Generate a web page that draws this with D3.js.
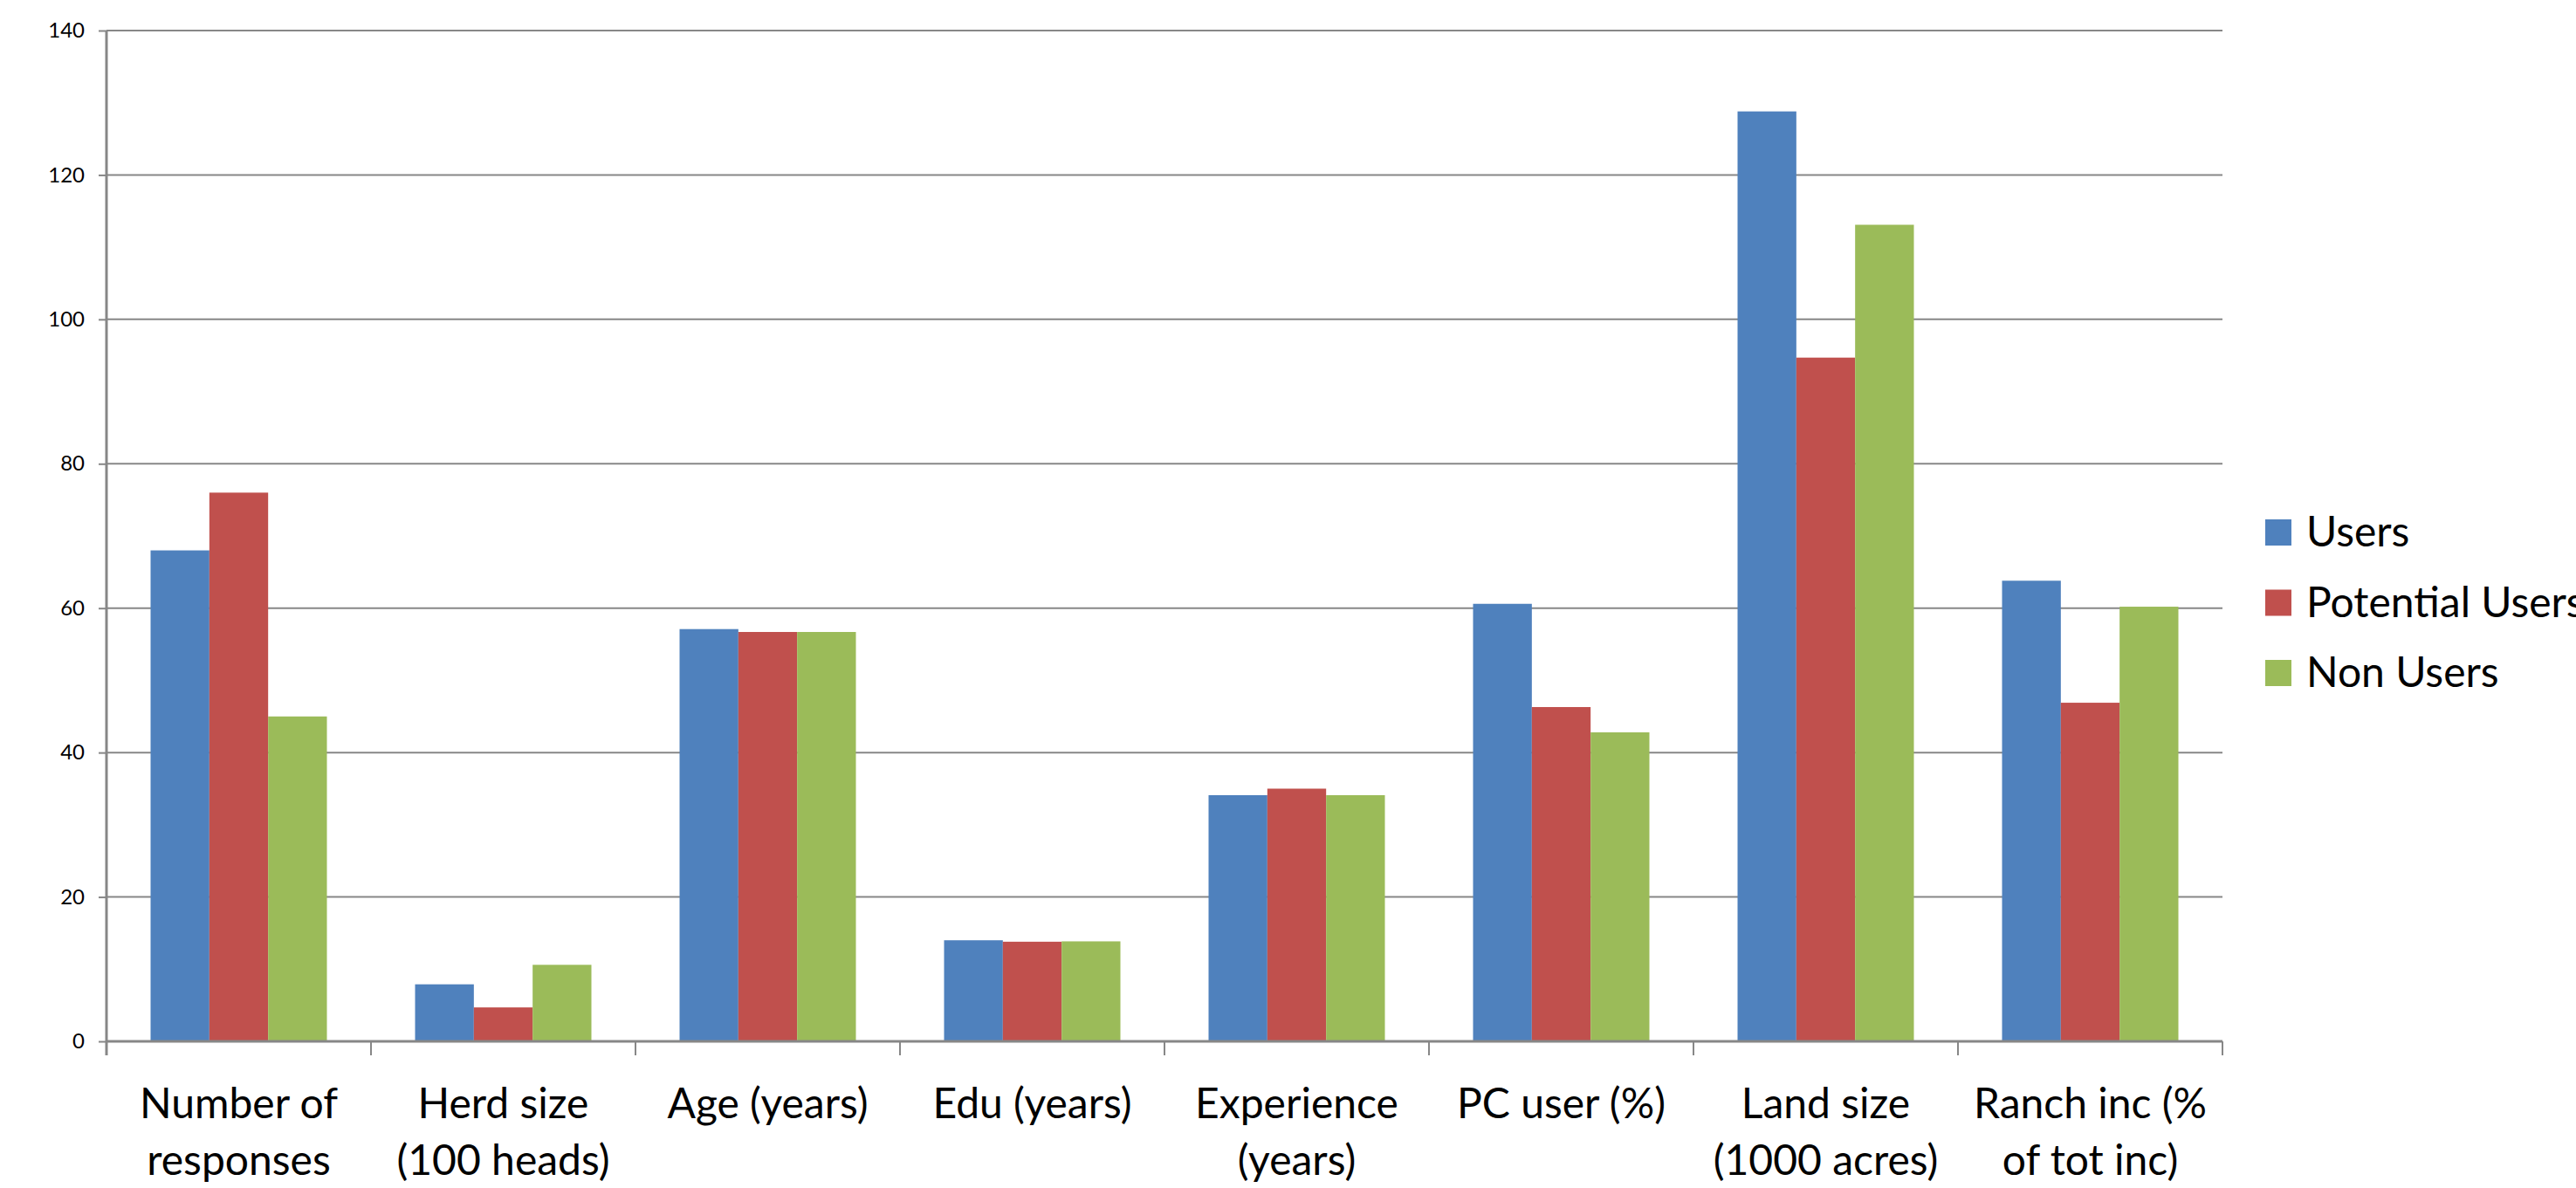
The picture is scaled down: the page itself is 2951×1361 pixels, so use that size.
<!DOCTYPE html>
<html>
<head>
<meta charset="utf-8">
<script src="https://cdn.jsdelivr.net/npm/d3@7"></script>
<style>
  html, body { margin: 0; padding: 0; background: #fff; }
  svg { display: block; }
</style>
</head>
<body>
<div id="chart"></div>
<script>
// Clustered column chart: survey characteristics by user group
(function() {
  "use strict";

  // ---- data ----
  const categories = ["Number of responses", "Herd size (100 heads)", "Age (years)", "Edu (years)",
    "Experience (years)", "PC user (%)", "Land size (1000 acres)", "Ranch inc (% of tot inc)"];
  // how the category labels wrap under the axis
  const categoryLines = [["Number of", "responses"], ["Herd size", "(100 heads)"], ["Age (years)"], ["Edu (years)"],
    ["Experience", "(years)"], ["PC user (%)"], ["Land size", "(1000 acres)"], ["Ranch inc (%", "of tot inc)"]];
  const seriesNames = ["Users", "Potential Users", "Non Users"];
  const users = [68, 7.9, 57.1, 14.0, 34.1, 60.6, 128.8, 63.8];
  const potentialUsers = [76, 4.7, 56.7, 13.8, 35.0, 46.3, 94.7, 46.9];
  const nonUsers = [45, 10.6, 56.7, 13.85, 34.1, 42.8, 113.1, 60.2];
  const yTicks = [0, 20, 40, 60, 80, 100, 120, 140];

  const seriesValues = [users, potentialUsers, nonUsers];
  const colors = ["#4F81BD", "#C0504D", "#9BBB59"];

  // ---- layout ----
  const width = 2951, height = 1361;
  const left = 122, right = 2546, top = 35, bottom = 1193;
  const font = "Lato, 'Open Sans', sans-serif";
  const gridColor = "#878787";

  const svg = d3.select("#chart").append("svg")
      .attr("width", width)
      .attr("height", height)
      .style("font-family", font);

  const y = d3.scaleLinear().domain([0, 140]).range([bottom, top]);

  // Excel-style gap width 150%: outer padding of 0.75 bar on each side
  const x0 = d3.scaleBand().domain(categories).range([left, right]).padding(0);
  const x1 = d3.scaleBand().domain(seriesNames).range([0, x0.bandwidth()])
      .paddingInner(0).paddingOuter(0.75);

  // horizontal gridlines
  svg.append("g")
    .selectAll("line")
    .data(yTicks.filter(d => d > 0))
    .join("line")
      .attr("x1", left)
      .attr("x2", right)
      .attr("y1", d => y(d))
      .attr("y2", d => y(d))
      .attr("stroke", gridColor)
      .attr("stroke-width", 2);

  // y axis
  const yAxis = svg.append("g")
      .attr("transform", `translate(${left},0)`)
      .call(d3.axisLeft(y).tickValues(yTicks).tickSizeInner(9).tickSizeOuter(0).tickPadding(16));
  yAxis.select(".domain").remove();
  yAxis.selectAll(".tick line").attr("stroke", gridColor).attr("stroke-width", 2);
  yAxis.selectAll(".tick text")
      .attr("font-family", font)
      .attr("font-size", 24)
      .attr("fill", "#000");

  // bars
  const rows = categories.map((c, i) => ({ category: c, values: seriesNames.map((s, j) => ({ series: s, value: seriesValues[j][i], color: colors[j] })) }));

  svg.append("g")
    .selectAll("g")
    .data(rows)
    .join("g")
      .attr("transform", d => `translate(${x0(d.category)},0)`)
    .selectAll("rect")
    .data(d => d.values)
    .join("rect")
      .attr("x", d => x1(d.series))
      .attr("y", d => y(d.value))
      .attr("width", x1.bandwidth())
      .attr("height", d => y(0) - y(d.value))
      .attr("fill", d => d.color);

  // x axis line, y axis line and category boundary ticks
  const axisColor = gridColor;
  svg.append("line")
      .attr("x1", left).attr("x2", right)
      .attr("y1", y(0)).attr("y2", y(0))
      .attr("stroke", axisColor).attr("stroke-width", 3);
  svg.append("line")
      .attr("x1", left).attr("x2", left)
      .attr("y1", y(140)).attr("y2", y(0) + 16)
      .attr("stroke", axisColor).attr("stroke-width", 3);

  const boundaries = categories.map(c => x0(c)).concat([x0.range()[1]]);
  svg.append("g")
    .selectAll("line")
    .data(boundaries)
    .join("line")
      .attr("x1", d => d).attr("x2", d => d)
      .attr("y1", y(0)).attr("y2", y(0) + 16)
      .attr("stroke", axisColor).attr("stroke-width", 2);

  // category labels (wrapped)
  const labels = svg.append("g")
      .attr("text-anchor", "middle")
      .attr("font-size", 48)
      .attr("fill", "#000")
    .selectAll("text")
    .data(categories)
    .join("text")
      .attr("x", d => x0(d) + x0.bandwidth() / 2)
      .attr("y", 1281);
  labels.selectAll("tspan")
    .data((d, i) => categoryLines[i])
    .join("tspan")
      .attr("x", function() { return this.parentNode.getAttribute("x"); })
      .attr("dy", (d, i) => i === 0 ? 0 : 65)
      .text(d => d);

  // legend
  const legend = svg.append("g")
    .selectAll("g")
    .data(seriesNames)
    .join("g")
      .attr("transform", (d, i) => `translate(2595,${595 + i * 80.5})`);
  legend.append("rect")
      .attr("width", 30)
      .attr("height", 30)
      .attr("fill", (d, i) => colors[i]);
  legend.append("text")
      .attr("x", 47)
      .attr("y", 31)
      .attr("font-size", 48)
      .attr("fill", "#000")
      .text(d => d);
})();
</script>
</body>
</html>
